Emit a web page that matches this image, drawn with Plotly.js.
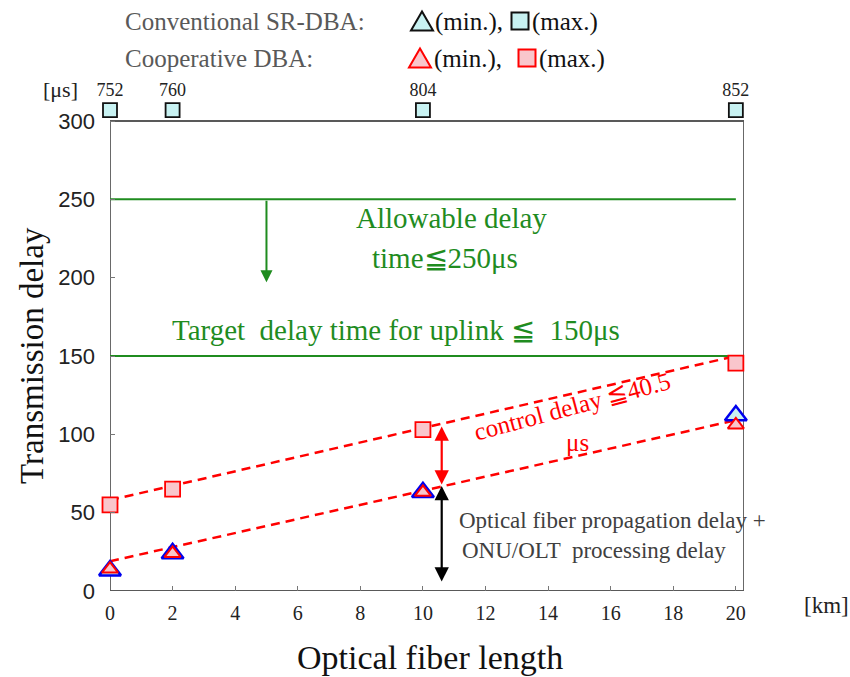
<!DOCTYPE html>
<html>
<head>
<meta charset="utf-8">
<script src="https://cdn.plot.ly/plotly-3.0.1.min.js"></script>
<style>html,body{margin:0;padding:0;background:#fff;}#chart{width:850px;height:677px;}</style>
</head>
<body>
<div id="chart"></div>
<script>
// ---- data ----
const fiberKm = [0, 2, 10, 20];
const coopMax = [55, 65, 103, 145.5];
const coopMin = [14, 24, 63, 106];
const convMin = [13, 24, 63, 112];
const convMax = [752, 760, 804, 852];
const convMaxLabels = ['752', '760', '804', '852'];
const trendX = [0, 20];
const upperTrend = [58, 150];
const lowerTrend = [19, 109];
const allowableDelay = [250, 250];
const targetDelay = [150, 150];
const xTicks = [0, 2, 4, 6, 8, 10, 12, 14, 16, 18, 20];
const yTicks = [0, 50, 100, 150, 200, 250, 300];

// ---- layout helpers ----
const W = 850, H = 677;
const L = 110, R = 744, T = 102, B = 591;
const yFrameTop = 300;
const yRangeTop = (B - T) / 470 * 300;
const px = x => (x - L) / (R - L);
const py = y => (B - y) / (B - T);
const offscaleY = 307;
const serif = 'Liberation Serif, Times New Roman, serif';
const green = '#1f8c1f';
const red = '#ff0000';
const pink = '#f9c6cc';
const cyan = '#c8f2f2';

const traces = [
  {x: trendX, y: upperTrend, mode: 'lines', line: {color: red, width: 2.5, dash: '9px,6px'}, hoverinfo: 'skip'},
  {x: trendX, y: lowerTrend, mode: 'lines', line: {color: red, width: 2.5, dash: '9px,6px'}, hoverinfo: 'skip'},
  {x: trendX, y: allowableDelay, mode: 'lines', line: {color: green, width: 2}},
  {x: trendX, y: targetDelay, mode: 'lines', line: {color: green, width: 2}},
  {x: fiberKm, y: convMin, mode: 'markers', cliponaxis: false,
   marker: {symbol: 'triangle-up', size: 19, color: cyan, line: {color: '#0000ee', width: 2.5}}},
  {x: fiberKm, y: coopMin, mode: 'markers', cliponaxis: false,
   marker: {symbol: 'triangle-up', size: 14, color: pink, line: {color: red, width: 2}}},
  {x: fiberKm, y: coopMax, mode: 'markers', cliponaxis: false,
   marker: {symbol: 'square', size: 15, color: pink, line: {color: red, width: 1.8}}},
  {x: fiberKm, y: convMax.map(() => offscaleY), mode: 'markers+text', cliponaxis: false,
   text: convMaxLabels, textposition: 'top center',
   textfont: {family: serif, size: 18, color: '#222'},
   marker: {symbol: 'square', size: 14, color: cyan, line: {color: '#111', width: 1.8}}}
];

function tri(cx, cy, w, h) {
  return `M${px(cx - w/2)},${py(cy + h/2)} L${px(cx + w/2)},${py(cy + h/2)} L${px(cx)},${py(cy - h/2)} Z`;
}
function sq(cx, cy, s) {
  return {type: 'rect', xref: 'paper', yref: 'paper', x0: px(cx - s/2), x1: px(cx + s/2), y0: py(cy + s/2), y1: py(cy - s/2)};
}

const shapes = [
  {type: 'rect', xref: 'x', yref: 'y', x0: 0, x1: 20.26, y0: 0, y1: yFrameTop, layer: 'below',
   line: {color: '#595959', width: 1.8}, fillcolor: 'rgba(0,0,0,0)'},
  {type: 'path', xref: 'paper', yref: 'paper', path: tri(422, 21, 22, 19), fillcolor: cyan, line: {color: '#111', width: 2}},
  Object.assign(sq(520, 21, 17), {fillcolor: cyan, line: {color: '#111', width: 2}}),
  {type: 'path', xref: 'paper', yref: 'paper', path: tri(420, 58, 22, 19), fillcolor: pink, line: {color: red, width: 2}},
  Object.assign(sq(527, 58, 17), {fillcolor: pink, line: {color: red, width: 2}})
];

const P = (t, x, y, font, extra) => Object.assign({text: t, xref: 'paper', yref: 'paper', x: px(x), y: py(y),
  xanchor: 'center', yanchor: 'middle', showarrow: false, font: font}, extra || {});
const D = (t, x, y, font, extra) => Object.assign({text: t, xref: 'x', yref: 'y', x: x, y: y,
  xanchor: 'center', yanchor: 'middle', showarrow: false, font: font}, extra || {});

const legFont = {family: serif, size: 25, color: '#595959'};
const symFont = {family: serif, size: 25, color: '#111'};
const greenFont = {family: serif, size: 29, color: green};
const redFont = {family: serif, size: 25, color: red};
const noteFont = {family: serif, size: 23, color: '#404040'};

const annotations = [
  P('Conventional SR-DBA:', 123, 22, legFont, {xanchor: 'left'}),
  P('Cooperative DBA:', 123, 59, legFont, {xanchor: 'left'}),
  P('(min.),', 433, 22, symFont, {xanchor: 'left'}),
  P('(max.)', 530, 22, symFont, {xanchor: 'left'}),
  P('(min.),', 432, 59, symFont, {xanchor: 'left'}),
  P('(max.)', 537, 59, symFont, {xanchor: 'left'}),
  P('[μs]', 60, 90, {family: serif, size: 22, color: '#222'}),
  P('[km]', 826, 605, {family: serif, size: 23, color: '#222'}),
  P('Optical fiber length', 430, 657, {family: serif, size: 34, color: '#111'}),
  P('Transmission delay', 32, 356, {family: serif, size: 33, color: '#111'}, {textangle: -90}),
  D('Allowable delay', 10.9, 238, greenFont),
  D('time≦250μs', 10.7, 212.5, greenFont),
  D('Target  delay time for uplink ≦  150μs', 9.15, 166.5, greenFont),
  D('control delay ≦40.5', 14.75, 118, redFont, {textangle: -15}),
  D('μs', 14.95, 95, redFont),
  D('Optical fiber propagation delay +', 11.1, 45, noteFont, {xanchor: 'left'}),
  D('ONU/OLT  processing delay', 11.2, 26, noteFont, {xanchor: 'left'}),
  // arrows
  {x: 5, y: 197, ax: 5, ay: 250, xref: 'x', yref: 'y', axref: 'x', ayref: 'y', text: '', showarrow: true,
   arrowhead: 2, arrowsize: 1.2, arrowwidth: 2, arrowcolor: green},
  {x: 10.6, y: 68, ax: 10.6, ay: 106, xref: 'x', yref: 'y', axref: 'x', ayref: 'y', text: '', showarrow: true,
   arrowside: 'end+start', arrowhead: 2, startarrowhead: 2, arrowsize: 1.3, startarrowsize: 1.3, arrowwidth: 2.2, arrowcolor: red},
  {x: 10.6, y: 6, ax: 10.6, ay: 68, xref: 'x', yref: 'y', axref: 'x', ayref: 'y', text: '', showarrow: true,
   arrowside: 'end+start', arrowhead: 2, startarrowhead: 2, arrowsize: 1.3, startarrowsize: 1.3, arrowwidth: 2.2, arrowcolor: '#000'}
];

const layout = {
  width: W, height: H,
  margin: {l: L, r: W - R, t: T, b: H - B, pad: 0},
  paper_bgcolor: '#fff', plot_bgcolor: '#fff',
  showlegend: false,
  xaxis: {range: [0, 20.26], tickvals: xTicks, ticks: 'inside', ticklen: 5, tickcolor: '#777',
    showgrid: false, zeroline: false, showline: false,
    tickfont: {family: serif, size: 20, color: '#222'}, ticklabelstandoff: 8},
  yaxis: {range: [0, yRangeTop], tickvals: yTicks, ticks: 'inside', ticklen: 5, tickcolor: '#777',
    showgrid: false, zeroline: false, showline: false,
    tickfont: {family: 'Liberation Sans, Arial, sans-serif', size: 22, color: '#222'}, ticklabelstandoff: 14},
  shapes: shapes,
  annotations: annotations
};

Plotly.newPlot('chart', traces, layout, {displayModeBar: false, staticPlot: true});
</script>
</body>
</html>
